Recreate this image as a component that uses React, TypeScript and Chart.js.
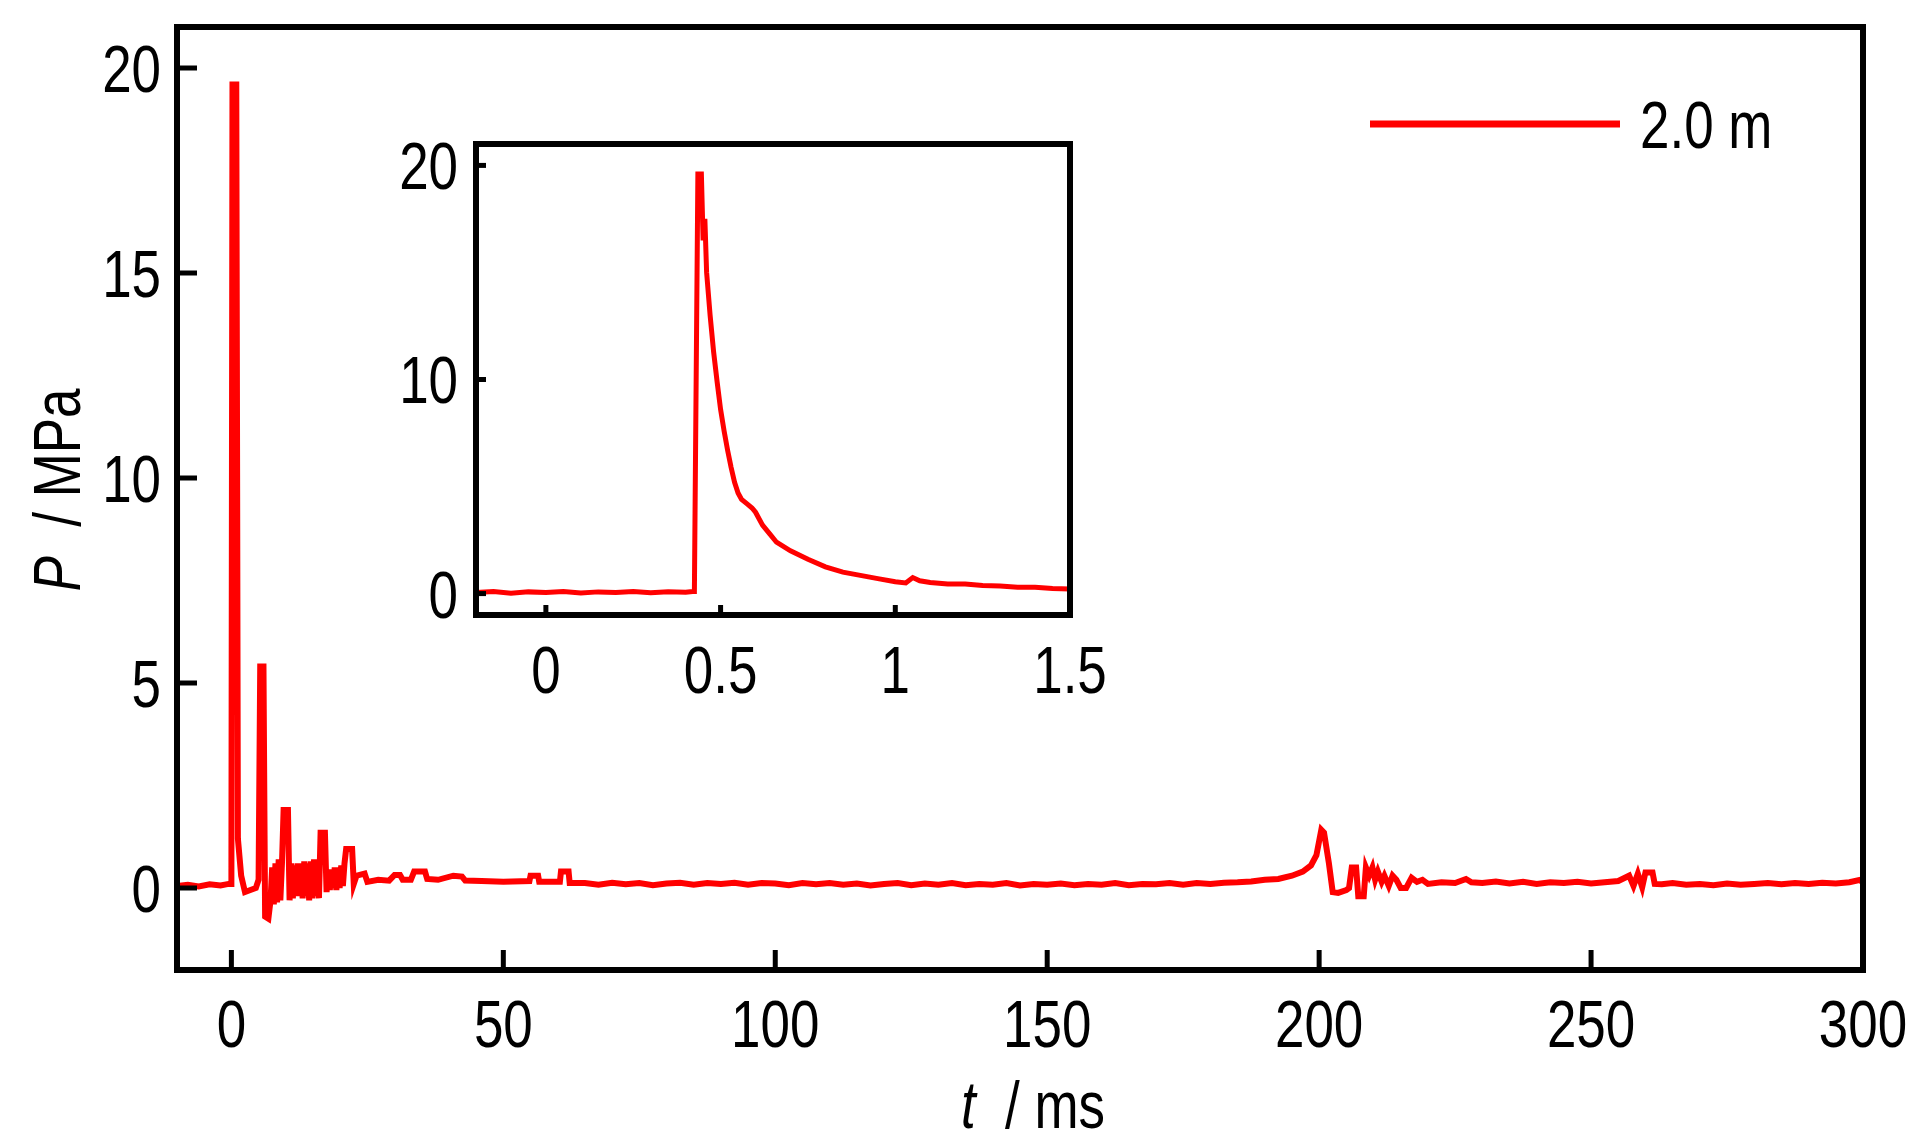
import { useEffect, useRef } from 'react';
import { Chart, registerables } from 'chart.js';

Chart.register(...registerables);

// main trace, t in ms, P in MPa
const mainT = [
  -10, -8, -6, -4, -2, -0.5, 0, 0.2, 0.9, 1.2, 1.8, 2.5, 3.5, 4.5,
  5.0, 5.3, 5.9, 6.2, 6.8, 7.2, 7.5, 7.8, 8.1, 8.4, 8.7, 9.0, 9.3, 9.6, 10.4, 10.7,
  11.0, 11.3, 11.6, 11.9, 12.2, 12.5, 12.8, 13.1, 13.4, 13.7, 14.0, 14.3, 14.6, 14.9,
  15.2, 15.5, 15.8, 16.1, 16.4, 17.2, 17.5, 17.8, 18.1, 18.4, 18.7, 19.0, 19.3, 19.6,
  19.9, 20.2, 20.5, 20.8, 21.1, 22.2, 22.5, 23, 24.5, 25, 27, 29, 30, 31, 31.5, 33,
  33.6, 35.6, 36, 38, 40.8, 42.4, 43, 46, 50, 54.8, 55, 56.4, 56.6, 60.4, 60.6, 62, 62.2,
  65, 67.5, 70, 72.5, 75, 77.5, 80, 82.5, 85, 87.5, 90, 92.5, 95, 97.5, 100, 102.5,
  105, 107.5, 110, 112.5, 115, 117.5, 120, 122.5, 125, 127.5, 130, 132.5, 135, 137.5,
  140, 142.5, 145, 147.5, 150, 152.5, 155, 157.5, 160, 162.5, 165, 167.5, 170, 172.5,
  175, 177.5, 180, 182.5, 185, 187.5, 190, 192.5, 195, 197, 198.5, 199.5, 200.4, 200.9,
  201.8, 202.5, 203.5, 205, 205.5, 206, 206.8, 207.2, 208.2, 208.6, 209.2, 209.8, 210.3,
  210.8, 211.5, 212, 212.8, 213.5, 214.2, 215, 216, 217, 218, 219, 220, 222.5, 225, 227,
  228, 230, 232.5, 235, 237.5, 240, 242.5, 245, 247.5, 250, 252.5, 255, 257, 257.8,
  258.6, 259.4, 260, 261.3, 261.7, 263, 265, 267.5, 270, 272.5, 275, 277.5, 280, 282.5,
  285, 287.5, 290, 292.5, 295, 297.5, 299.5, 300,
];
const mainP = [
  0.05, 0.08, 0.04, 0.09, 0.06, 0.1, 0.1, 19.6, 19.6, 1.2, 0.3, -0.1, -0.05, 0.0,
  0.2, 5.4, 5.4, -0.7, -0.75, -0.3, 0.5, -0.4, 0.6, -0.35, 0.7, -0.3, 0.6, 1.9, 1.9, -0.3,
  0.6, -0.25, 0.55, -0.2, 0.6, -0.2, 0.6, -0.25, 0.65, -0.2, 0.6, -0.3, 0.65, -0.25,
  0.7, -0.2, 0.65, -0.25, 1.35, 1.35, -0.1, 0.35, -0.05, 0.45, 0.0, 0.5, -0.05, 0.5,
  0.0, 0.55, 0.05, 0.6, 0.95, 0.95, 0.1, 0.3, 0.35, 0.15, 0.2, 0.18, 0.32, 0.32, 0.2, 0.2,
  0.4, 0.4, 0.22, 0.2, 0.3, 0.28, 0.18, 0.17, 0.15, 0.17, 0.3, 0.3, 0.15, 0.15, 0.4, 0.4, 0.12,
  0.12, 0.08, 0.13, 0.09, 0.12, 0.07, 0.11, 0.13, 0.08, 0.12, 0.1, 0.13, 0.08, 0.12, 0.11, 0.07,
  0.12, 0.09, 0.12, 0.08, 0.11, 0.06, 0.1, 0.12, 0.07, 0.11, 0.08, 0.12, 0.07, 0.1,
  0.08, 0.12, 0.06, 0.1, 0.08, 0.11, 0.07, 0.1, 0.08, 0.12, 0.07, 0.1, 0.09, 0.12,
  0.08, 0.12, 0.1, 0.13, 0.14, 0.16, 0.2, 0.22, 0.3, 0.4, 0.55, 0.8, 1.42, 1.35,
  0.6, -0.1, -0.12, -0.05, 0.0, 0.5, 0.5, -0.2, -0.2, 0.5, 0.3, 0.5, 0.2,
  0.4, 0.15, 0.3, 0.05, 0.3, 0.2, 0.0, 0.0, 0.25, 0.15, 0.2, 0.1, 0.14, 0.12, 0.22,
  0.14, 0.12, 0.16, 0.11, 0.15, 0.1, 0.14, 0.12, 0.15, 0.11, 0.14, 0.17, 0.3, 0.05,
  0.35, 0.02, 0.38, 0.38, 0.1, 0.09, 0.12, 0.08, 0.1, 0.07, 0.11, 0.08, 0.1, 0.12,
  0.09, 0.12, 0.1, 0.13, 0.11, 0.14, 0.2, 0.12,
];

// inset: first 1.5 ms
const insetT = [
  -0.2, -0.15, -0.1, -0.05, 0, 0.05, 0.1, 0.15, 0.2, 0.25, 0.3, 0.35, 0.4, 0.42, 0.425,
  0.435, 0.445, 0.45, 0.455, 0.46, 0.47, 0.48, 0.49, 0.5, 0.51, 0.52, 0.53, 0.54, 0.55,
  0.56, 0.575, 0.59, 0.6, 0.62, 0.64, 0.66, 0.7, 0.75, 0.8, 0.85, 0.9, 0.95, 1.0, 1.03,
  1.05, 1.07, 1.1, 1.15, 1.2, 1.25, 1.3, 1.35, 1.4, 1.45, 1.5,
];
const insetP = [
  0.05, 0.1, 0.02, 0.08, 0.05, 0.1, 0.03, 0.08, 0.05, 0.1, 0.04, 0.09, 0.06, 0.1, 0.1,
  19.6, 19.6, 16.5, 17.5, 15.0, 13.0, 11.3, 9.9, 8.6, 7.6, 6.7, 5.9, 5.2, 4.7,
  4.4, 4.2, 4.0, 3.8, 3.2, 2.8, 2.4, 2.0, 1.6, 1.25, 1.0, 0.85, 0.7, 0.55, 0.5,
  0.75, 0.6, 0.52, 0.45, 0.45, 0.38, 0.35, 0.3, 0.3, 0.24, 0.22,
];

const mainXTicks = [0, 50, 100, 150, 200, 250, 300];
const mainYTicks = [0, 5, 10, 15, 20];
const insetXTicks = [0, 0.5, 1, 1.5];
const insetYTicks = [0, 10, 20];

const seriesLabel = '2.0 m';
const RED = '#ff0000';
const FONT = '"Liberation Sans", Arial, sans-serif';
const SQUEEZE = 0.79; // narrow look of the original type

// draws text squeezed horizontally around its anchor
function narrowText(ctx: CanvasRenderingContext2D, text: string, x: number, y: number, align: CanvasTextAlign) {
  ctx.save();
  ctx.translate(x, y);
  ctx.scale(SQUEEZE, 1);
  ctx.textAlign = align;
  ctx.fillText(text, 0, 0);
  ctx.restore();
}

interface FrameOpts {
  tickLen: number;
  labelSize: number;
  yLabelRight: number;
  xLabelBaseline: number;
}

// frame, inward ticks and tick labels, all placed from the chart's own scales
const framePlugin = (o: FrameOpts) => ({
  id: 'frame',
  afterDraw(chart: Chart) {
    const { ctx, chartArea: a, scales } = chart;
    const xs = scales.x, ys = scales.y;
    ctx.save();
    ctx.strokeStyle = '#000';
    ctx.lineWidth = 6;
    ctx.strokeRect(a.left, a.top, a.right - a.left, a.bottom - a.top);
    ctx.lineWidth = 5;
    ctx.fillStyle = '#000';
    ctx.font = `${o.labelSize}px ${FONT}`;
    ctx.textBaseline = 'alphabetic';
    const half = o.labelSize * 0.358;
    ys.ticks.forEach(t => {
      const y = ys.getPixelForValue(t.value);
      ctx.beginPath(); ctx.moveTo(a.left, y); ctx.lineTo(a.left + o.tickLen, y); ctx.stroke();
      narrowText(ctx, String(t.value), o.yLabelRight, y + half, 'right');
    });
    xs.ticks.forEach(t => {
      const x = xs.getPixelForValue(t.value);
      ctx.beginPath(); ctx.moveTo(x, a.bottom); ctx.lineTo(x, a.bottom - o.tickLen); ctx.stroke();
      narrowText(ctx, String(t.value), x, o.xLabelBaseline, 'center');
    });
    ctx.restore();
  },
});

// mixed italic / upright axis title, centred on the current origin
function drawTitle(ctx: CanvasRenderingContext2D, sym: string, rest: string, size: number) {
  ctx.font = `italic ${size}px ${FONT}`;
  const w1 = ctx.measureText(sym).width;
  ctx.font = `${size}px ${FONT}`;
  const w2 = ctx.measureText(rest).width;
  ctx.scale(SQUEEZE, 1);
  ctx.textAlign = 'left';
  let x = -(w1 + w2) / 2;
  ctx.font = `italic ${size}px ${FONT}`;
  ctx.fillText(sym, x, 0);
  x += w1;
  ctx.font = `${size}px ${FONT}`;
  ctx.fillText(rest, x, 0);
}

const mainExtras = {
  id: 'mainExtras',
  afterDraw(chart: Chart) {
    const { ctx } = chart;
    ctx.save();
    ctx.fillStyle = '#000';
    ctx.textBaseline = 'alphabetic';
    // x title
    ctx.save();
    ctx.translate(1033, 1128);
    drawTitle(ctx, 't', '  / ms', 67);
    ctx.restore();
    // y title
    ctx.save();
    ctx.translate(80, 490);
    ctx.rotate(-Math.PI / 2);
    drawTitle(ctx, 'P', '  / MPa', 67);
    ctx.restore();
    // legend
    const ds = chart.data.datasets[0];
    ctx.strokeStyle = ds.borderColor as string;
    ctx.lineWidth = 7;
    ctx.beginPath(); ctx.moveTo(1370, 124); ctx.lineTo(1620, 124); ctx.stroke();
    ctx.font = `67px ${FONT}`;
    narrowText(ctx, ds.label ?? '', 1640, 148, 'left');
    ctx.restore();
  },
};

function axis(min: number, max: number, ticks: number[], fit: (s: any) => void) {
  return {
    type: 'linear' as const,
    min,
    max,
    grid: { display: false },
    border: { display: false },
    ticks: { display: false },
    afterBuildTicks: (s: any) => { s.ticks = ticks.map(v => ({ value: v })); },
    afterFit: fit,
  };
}

function MainChart() {
  const canvasRef = useRef<HTMLCanvasElement>(null);
  useEffect(() => {
    if (!canvasRef.current) return;
    const chart = new Chart(canvasRef.current, {
      type: 'line',
      data: {
        datasets: [{
          label: seriesLabel,
          data: mainT.map((t, i) => ({ x: t, y: mainP[i] })),
          borderColor: RED,
          borderWidth: 6,
          pointRadius: 0,
          tension: 0,
        }],
      },
      options: {
        animation: false,
        responsive: false,
        devicePixelRatio: 1,
        layout: { padding: { top: 27, right: 69, left: 0, bottom: 0 } },
        plugins: { legend: { display: false }, tooltip: { enabled: false } },
        scales: {
          x: axis(-10, 300, mainXTicks, s => { s.height = 166; }),
          y: axis(-2, 21, mainYTicks, s => { s.width = 177; }),
        },
      },
      plugins: [framePlugin({ tickLen: 20, labelSize: 67, yLabelRight: 161, xLabelBaseline: 1047 }), mainExtras],
    });
    return () => chart.destroy();
  }, []);
  return <canvas ref={canvasRef} width={1932} height={1136} style={{ position: 'absolute', left: 0, top: 0 }} />;
}

// inset canvas sits at page (300,100)
function InsetChart() {
  const canvasRef = useRef<HTMLCanvasElement>(null);
  useEffect(() => {
    if (!canvasRef.current) return;
    const chart = new Chart(canvasRef.current, {
      type: 'line',
      data: {
        datasets: [{
          label: seriesLabel,
          data: insetT.map((t, i) => ({ x: t, y: insetP[i] })),
          borderColor: RED,
          borderWidth: 5,
          pointRadius: 0,
          tension: 0,
        }],
      },
      options: {
        animation: false,
        responsive: false,
        devicePixelRatio: 1,
        layout: { padding: { top: 44, right: 110, left: 0, bottom: 0 } },
        plugins: { legend: { display: false }, tooltip: { enabled: false } },
        scales: {
          x: axis(-0.2, 1.5, insetXTicks, s => { s.height = 125; }),
          y: axis(-1, 21, insetYTicks, s => { s.width = 176; }),
        },
      },
      plugins: [framePlugin({ tickLen: 10, labelSize: 67, yLabelRight: 158, xLabelBaseline: 593 })],
    });
    return () => chart.destroy();
  }, []);
  return <canvas ref={canvasRef} width={880} height={640} style={{ position: 'absolute', left: 300, top: 100 }} />;
}

export default function App() {
  useEffect(() => {
    document.body.style.margin = '0';
    document.body.style.overflow = 'hidden';
  }, []);
  return (
    <div style={{ position: 'relative', width: 1932, height: 1136, background: '#fff', overflow: 'hidden' }}>
      <MainChart />
      <InsetChart />
    </div>
  );
}
